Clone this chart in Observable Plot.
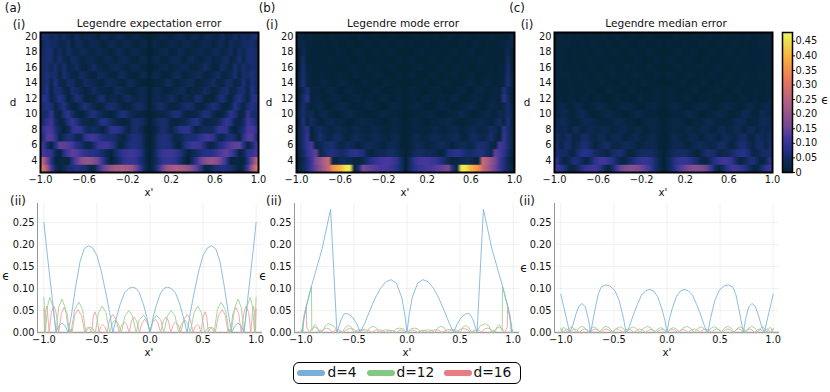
<!DOCTYPE html>
<html>
<head>
<meta charset="utf-8">
<script src="https://cdn.jsdelivr.net/npm/d3@7"></script>
<script src="https://cdn.jsdelivr.net/npm/@observablehq/plot@0.6"></script>
<style>
html,body{margin:0;padding:0;background:#fff}
#root{position:relative;width:830px;height:392px;overflow:hidden;font-family:"DejaVu Sans",sans-serif;color:#111}
#root svg{position:absolute;background:transparent;overflow:visible}
.t{position:absolute;transform:translate(-50%,-50%);white-space:nowrap;line-height:1}
.legend{position:absolute;left:293px;top:362px;width:226px;height:20px;border:1.5px solid #000;border-radius:6px;box-sizing:content-box}
.bar{position:absolute;height:6px;border-radius:3px;top:7px}
.lt{position:absolute;font-size:13.8px;top:2.5px;line-height:1}
</style>
</head>
<body>
<div id="root"></div>
<script>
// error heat maps: rows d = 3 ... 20, columns x' = 0, .04, ... 1 (hundredths); the panels mirror about x' = 0
const degrees = d3.range(3, 21);
const columns = d3.range(26).map(i => i * 0.04);
const expectationRows = [
[0,4,9,15,20,22,23,23,22,20,17,14,9,2,3,6,7,8,7,6,4,1,4,12,22,30],
[0,3,6,9,10,10,9,6,3,0,5,10,15,18,20,20,18,14,9,1,2,2,1,8,16,25],
[0,3,8,10,11,11,10,8,5,1,3,5,7,8,8,9,11,13,14,12,8,1,4,9,10,12],
[0,2,6,7,7,6,3,1,6,9,11,11,10,6,2,3,6,8,11,13,14,14,8,1,6,11],
[0,2,6,7,7,5,2,3,5,6,6,7,9,11,11,9,4,3,6,7,5,2,9,13,13,7],
[0,1,4,6,5,2,5,8,9,9,5,1,4,5,4,5,9,10,9,3,1,4,7,12,12,9],
[0,3,5,6,5,2,1,2,3,5,7,8,5,2,2,3,4,7,10,8,3,2,5,11,9,6],
[0,1,2,2,3,5,7,6,3,1,2,3,5,7,6,3,1,2,5,9,7,2,3,10,6,5],
[0,3,5,5,3,1,1,3,5,6,5,2,1,3,5,7,5,2,1,4,8,5,2,6,8,6],
[0,3,4,2,3,5,4,1,3,3,2,6,5,1,1,1,5,7,4,1,6,8,5,2,8,8],
[0,3,4,2,1,2,3,4,4,1,2,2,3,5,3,1,3,5,6,2,3,6,6,2,8,5],
[0,1,1,2,4,4,1,2,3,4,4,1,2,3,4,5,2,2,5,5,2,3,7,3,7,5],
[0,3,3,1,1,2,4,4,1,2,3,4,4,1,2,4,5,2,2,4,6,2,6,5,7,5],
[0,1,2,3,3,1,2,3,4,3,1,2,3,5,3,1,2,5,3,2,6,3,6,4,6,5],
[0,3,3,1,1,3,4,3,1,3,4,2,1,3,4,2,2,4,5,2,3,6,3,6,6,5],
[0,1,2,3,3,1,2,4,3,1,2,3,4,2,2,4,4,2,3,5,2,5,3,6,6,5],
[0,3,2,1,2,3,3,1,3,4,2,1,3,4,3,1,4,4,1,5,3,3,5,5,6,4],
[0,1,2,3,2,1,3,4,3,1,3,3,1,3,4,3,2,5,2,3,5,3,5,4,6,6]
];
const modeRows = [
[0,5,8,10,11,12,12,13,14,15,16,7,1,46,46,41,38,35,27,23,19,15,11,7,4,1],
[0,5,9,11,12,12,11,10,8,6,3,1,2,3,4,4,2,1,27,24,20,16,11,7,3,0],
[0,2,4,5,5,4,4,3,1,3,7,8,9,8,6,5,6,7,7,5,3,14,12,9,5,1],
[0,1,3,4,3,1,2,3,4,4,3,1,3,4,4,2,4,6,6,5,3,2,12,10,6,2],
[0,1,3,3,1,2,3,4,3,2,3,4,4,2,1,4,5,4,2,4,6,3,1,10,6,2],
[0,1,2,2,1,1,2,3,2,1,2,3,3,1,2,3,4,2,2,3,5,4,1,9,6,2],
[0,1,2,2,1,.5,1,1,2,2,3,2,1,.5,1,2,2,3,3,2,1,3,5,2,7,1],
[0,.5,1,1,1,2,2,1,.5,.5,1,1,2,3,2,1,.5,1,2,3,2,1,4,3,6,2],
[0,1,2,2,1,0,.5,1,2,2,1,.5,.5,1,2,3,2,1,.5,1,3,2,1,3,6,1],
[0,1,1,.5,1,2,1,.5,1,1,.5,2,2,.5,.5,1,2,2,1,.5,2,2,1,9,5,0],
[0,1,1,.5,0,.5,1,1,1,0,.5,.5,1,2,1,0,1,2,2,.5,1,2,1,7,4,0],
[0,0,.5,.5,1,1,0,.5,.5,1,1,0,.5,.5,1,2,1,.5,1,2,1,.5,1,2,7,1],
[0,1,1,0,0,.5,1,1,0,.5,.5,1,1,0,.5,1,1,0,.5,1,1,.5,1,2,6,1],
[0,0,.5,1,1,0,.5,.5,1,1,0,.5,1,1,.5,0,.5,1,.5,.5,1,.5,1,1,6,0],
[0,1,1,0,0,.5,1,.5,0,.5,1,.5,0,.5,1,.5,.5,1,1,.5,.5,1,.5,1,5,0],
[0,0,.5,1,1,0,.5,1,.5,0,.5,1,1,0,.5,1,1,0,.5,1,.5,1,.5,1,4,0],
[0,1,.5,0,.5,1,.5,0,.5,1,.5,0,.5,1,.5,0,1,1,0,1,.5,.5,1,1,3,2],
[0,0,.5,1,.5,0,.5,1,.5,0,1,1,0,.5,1,.5,.5,1,.5,.5,1,.5,1,.5,1,3]
];
const medianRows = [
[0,3,6,10,13,15,17,18,18,17,15,11,5,1,5,9,11,11,10,8,5,2,2,6,9,11],
[0,3,6,9,10,10,9,7,5,2,2,5,8,10,11,11,9,5,1,4,6,7,4,1,4,9],
[0,2,4,5,5,5,4,2,1,4,6,6,5,2,3,4,5,7,8,8,6,2,3,5,5,6],
[0,1,3,3,3,2,1,3,4,4,3,2,3,5,5,3,1,4,6,6,4,2,5,5,2,6],
[0,1,3,3,2,1,3,3,2,1,3,4,3,1,4,4,2,3,5,5,2,2,5,4,3,5],
[0,1,2,2,1,2,3,2,1,3,3,2,1,3,4,2,2,4,3,1,4,4,1,4,3,4],
[0,1,2,2,2,1,.5,1,1,2,3,3,2,1,1,1,2,3,4,3,1,1,2,4,4,3],
[0,.5,1,1,1,2,3,2,1,.5,1,1,2,3,2,1,.5,1,2,4,3,1,1,4,3,2],
[0,1,2,2,1,.5,.5,1,2,2,2,1,.5,1,2,3,2,1,.5,2,3,2,1,2,3,2],
[0,1,1,.5,.5,1,1,0,.5,.5,1,1,.5,0,.5,1,1,0,1,1,.5,1,1,.5,1,1],
[0,1,1,.5,0,.5,.5,1,1,0,.5,.5,1,1,.5,0,.5,1,1,.5,.5,1,1,.5,1,1],
[0,0,.5,.5,1,1,0,.5,.5,1,1,0,.5,.5,1,1,.5,.5,1,1,.5,.5,1,.5,1,1],
[0,1,1,0,0,.5,1,1,0,.5,.5,1,1,0,.5,1,1,0,.5,1,1,.5,1,1,1,1],
[0,0,.5,1,1,0,.5,.5,1,1,0,.5,1,1,.5,0,.5,1,.5,.5,1,.5,1,.5,1,1],
[0,1,1,0,0,.5,1,.5,0,.5,1,.5,0,.5,1,.5,.5,1,1,.5,.5,1,.5,1,1,1],
[0,0,.5,1,1,0,.5,1,.5,0,.5,1,1,0,.5,1,1,0,.5,1,.5,1,.5,1,1,1],
[0,1,.5,0,.5,1,.5,0,.5,1,.5,0,.5,1,.5,0,1,1,0,1,.5,.5,1,1,1,1],
[0,0,.5,1,.5,0,.5,1,.5,0,1,1,0,.5,1,.5,.5,1,.5,.5,1,.5,1,.5,1,1]
];

// line panels: [x', error] read along x' >= 0, mirrored about x' = 0
const expectationD4 = [[0,0],[.03,.035],[.06,.062],[.1,.09],[.13,.1],[.165,.103],[.2,.1],[.24,.09],[.28,.065],[.32,.03],[.35,0],[.38,.045],[.42,.095],[.46,.14],[.5,.175],[.54,.192],[.58,.197],[.62,.19],[.66,.16],[.7,.105],[.74,.04],[.77,0],[.8,.015],[.83,.022],[.86,.014],[.885,0],[.92,.075],[.96,.16],[1,.25]];
const expectationD12 = [[0,0],[.03,.029],[.06,.039],[.1,.029],[.13,0],[.165,.038],[.2,.05],[.235,.038],[.27,0],[.3,.021],[.33,.028],[.355,.021],[.38,0],[.415,.045],[.45,.06],[.485,.045],[.515,0],[.54,.009],[.565,.012],[.585,.009],[.605,0],[.635,.052],[.67,.069],[.71,.052],[.745,0],[.755,.007],[.765,0],[.8,.057],[.83,.076],[.86,.057],[.885,0],[.915,.06],[.945,.08],[.965,.06],[.985,0],[1,.08]];
const expectationD16 = [[0,0],[.025,.022],[.05,.03],[.075,.022],[.1,0],[.125,.026],[.15,.035],[.175,.026],[.195,0],[.22,.018],[.24,.024],[.265,.018],[.29,0],[.32,.03],[.35,.041],[.38,.03],[.405,0],[.425,.013],[.445,.018],[.465,.013],[.48,0],[.5,.035],[.52,.047],[.535,.035],[.55,0],[.565,.009],[.58,.012],[.6,.009],[.615,0],[.645,.039],[.68,.052],[.71,.039],[.735,0],[.745,.008],[.76,0],[.78,.043],[.81,.057],[.835,.043],[.86,0],[.885,.045],[.905,.06],[.93,.045],[.95,0],[.965,.045],[.975,.06],[.985,.045],[.993,0],[1,.055]];
const modeD4 = [[0,0],[.02,.04],[.05,.08],[.1,.112],[.15,.12],[.2,.115],[.25,.1],[.3,.078],[.35,.05],[.4,.02],[.44,0],[.47,.018],[.51,.034],[.55,.042],[.59,.043],[.62,.03],[.65,.008],[.66,0],[.72,.28],[.8,.19],[.9,.105],[.95,.06],[.99,0],[1,0]];
const modeD12 = [[0,0],[.035,.008],[.07,.01],[.105,.008],[.135,0],[.17,.005],[.2,.006],[.23,.005],[.26,0],[.29,.011],[.32,.014],[.35,.011],[.38,0],[.41,.005],[.44,.007],[.47,.005],[.5,0],[.525,.012],[.55,.016],[.58,.012],[.61,0],[.625,.002],[.65,0],[.69,.015],[.74,.02],[.77,.015],[.8,0],[.815,.006],[.83,0],[.85,.014],[.87,.018],[.897,.004],[.9,.105],[.93,.075],[.96,.045],[.975,.03],[.98,0],[.99,.008],[1,0]];
const modeD16 = [[0,0],[.025,.004],[.05,.006],[.075,.004],[.1,0],[.13,.004],[.16,.005],[.18,.004],[.2,0],[.235,.005],[.27,.006],[.3,.005],[.33,0],[.365,.005],[.4,.007],[.435,.005],[.47,.001],[.5,.007],[.53,.009],[.565,.007],[.6,0],[.63,.005],[.66,.006],[.68,.005],[.7,0],[.73,.008],[.76,.01],[.785,.008],[.81,0],[.84,.009],[.87,.012],[.895,.009],[.92,0],[.935,.008],[.945,.012],[.948,.06],[.97,.04],[.985,.015],[.99,0],[1,0]];
const medianD4 = [[0,0],[.02,.028],[.05,.055],[.09,.082],[.125,.094],[.16,.098],[.2,.095],[.24,.085],[.28,.063],[.32,.038],[.36,.01],[.385,0],[.41,.032],[.45,.072],[.49,.095],[.54,.106],[.58,.108],[.62,.103],[.65,.085],[.68,.05],[.71,.012],[.72,0],[.74,.03],[.77,.058],[.8,.066],[.83,.06],[.86,.04],[.89,.015],[.918,0],[.95,.035],[.98,.065],[1,.087]];
const medianD12 = [[0,0],[.03,.008],[.06,.011],[.09,.008],[.115,0],[.15,.01],[.185,.014],[.22,.01],[.255,0],[.29,.009],[.32,.013],[.35,.009],[.38,0],[.41,.009],[.445,.013],[.48,.009],[.51,0],[.54,.01],[.575,.014],[.605,.01],[.635,0],[.66,.009],[.69,.013],[.72,.009],[.74,0],[.77,.01],[.8,.014],[.83,.01],[.855,0],[.88,.009],[.9,.013],[.92,.009],[.94,0],[.96,.009],[.975,.012],[.985,.008],[.992,0],[1,.01]];
const medianD16 = [[0,0],[.025,.005],[.05,.007],[.075,.005],[.1,0],[.125,.005],[.15,.007],[.175,.005],[.2,0],[.23,.006],[.26,.008],[.285,.006],[.31,0],[.34,.006],[.365,.008],[.39,.006],[.415,0],[.445,.006],[.47,.008],[.495,.006],[.52,0],[.55,.006],[.575,.008],[.6,.006],[.625,0],[.65,.006],[.675,.008],[.7,.006],[.72,0],[.75,.006],[.775,.008],[.8,.006],[.825,0],[.85,.006],[.87,.008],[.89,.006],[.91,0],[.93,.006],[.945,.008],[.96,.005],[.975,0],[.985,.004],[1,.007]];

const thermalStops = [0,.04,.08,.12,.16,.24,.32,.40,.48];
const thermalColors = ["#042333","#0e2a55","#243188","#47379c","#744992","#b15f82","#eb7958","#fbb43d","#e8fa5b"];
const colorbarTicks = [0,.05,.1,.15,.2,.25,.3,.35,.4,.45];
const heatXTicks = [-1,-.6,-.2,.2,.6,1];
const heatYTicks = [4,6,8,10,12,14,16,18,20];
const lineXTicks = [-1,-.5,0,.5,1];
const lineYTicks = [0,.05,.1,.15,.2,.25];
const seriesNames = ["d=4","d=12","d=16"];
const seriesColors = ["#80b5de","#98d498","#f0a0a0"];
const legendColors = ["#7aaed6","#84c884","#e87c80"];

const root = document.getElementById("root");
const fontStyle = {fontFamily:'"DejaVu Sans",sans-serif', fontSize:"9.8px", background:"transparent", color:"#111"};
const color = {type:"linear", domain:thermalStops, range:thermalColors, interpolate:"rgb"};
function place(svg, left, top){ svg.style.left = left+"px"; svg.style.top = top+"px"; root.appendChild(svg); }
function note(text, x, y, size){
  const e = document.createElement("div"); e.className = "t"; e.textContent = text;
  e.style.left = x+"px"; e.style.top = y+"px"; e.style.fontSize = size+"px"; root.appendChild(e);
}
const mirror = rows => rows.map(r => [...r.slice(1).reverse(), ...r]);
function heat(rows, left, right){
  const full = mirror(rows).reverse();           // top row is d = 20
  const repeat = 8;                              // keep row edges crisp when the raster is smoothed
  const flat = full.flatMap(r => d3.range(repeat).flatMap(() => r.map(v => v/100)));
  const svg = Plot.plot({
    width:right-left+16, height:192, marginLeft:8, marginRight:8, marginTop:32, marginBottom:20,
    style:fontStyle, color,
    x:{domain:[-1,1]}, y:{domain:[2.5,20.5]},
    marks:[
      Plot.raster(flat,{width:2*columns.length-1,height:degrees.length*repeat,x1:-1,x2:1,y1:20.5,y2:2.5,fill:d=>d}),
      Plot.frame({stroke:"#000",strokeWidth:2}),
      Plot.axisX(heatXTicks,{tickSize:0,tickPadding:4,tickFormat:d3.format(".1f"),label:null}),
      Plot.axisY(heatYTicks,{tickSize:0,tickPadding:3,label:null})
    ]
  });
  place(svg,left-8,0);
}
function linePanel(d4,d12,d16,left){
  const both = s => [...s.slice(1).reverse().map(([x,y])=>[-x,y]), ...s];
  const series = [d4,d12,d16].map(both);
  const svg = Plot.plot({
    width:241, height:152, marginLeft:8, marginRight:8, marginTop:3, marginBottom:20,
    style:fontStyle,
    x:{domain:[-1.06,1.06]}, y:{domain:[0,.293]},
    marks:[
      Plot.gridX(lineXTicks,{stroke:"#000",strokeOpacity:.06}),
      Plot.gridY(lineYTicks,{stroke:"#000",strokeOpacity:.06}),
      Plot.ruleY([0],{stroke:"#a0a0a0",strokeWidth:1.4}),
      Plot.ruleX([-1.06],{stroke:"#999",strokeWidth:1}),
      ...[2,1,0].map(i => Plot.line(series[i],{x:d=>d[0],y:d=>d[1],stroke:seriesColors[i],strokeWidth:.9})),
      Plot.axisX(lineXTicks,{tickSize:0,tickPadding:4,tickFormat:d3.format(".1f"),label:null}),
      Plot.axisY(lineYTicks,{tickSize:0,tickPadding:3,tickFormat:d3.format(".2f"),label:null})
    ]
  });
  place(svg,left-8,200);
}

heat(expectationRows,40,258);
heat(modeRows,296,514);
heat(medianRows,554,772);

// colour bar
place(Plot.plot({
  width:48, height:192, marginLeft:8, marginRight:30, marginTop:32, marginBottom:20,
  style:fontStyle, color,
  x:{domain:[0,1],axis:null}, y:{domain:[0,.48]},
  marks:[
    Plot.raster({x1:0,x2:1,y1:0,y2:.48,width:1,height:140,fill:(x,y)=>y}),
    Plot.frame({stroke:"#000",strokeWidth:1.5}),
    Plot.axisY(colorbarTicks,{anchor:"right",tickSize:2,tickPadding:1,tickFormat:d=>d===0?"0":d3.format(".2f")(d),label:null})
  ]
}),774,0);

linePanel(expectationD4,expectationD12,expectationD16,37);
linePanel(modeD4,modeD12,modeD16,294);
linePanel(medianD4,medianD12,medianD16,554);

[["Legendre expectation error",149],["Legendre mode error",403],["Legendre median error",666]].forEach(([t,x])=>note(t,x,23,10.6));
[["(a)",13,9],["(b)",267,9],["(c)",517,9]].forEach(([t,x,y])=>note(t,x,y,11.8));
[["(i)",19,26],["(i)",272,26],["(i)",527,26],["(ii)",18,202],["(ii)",274,202],["(ii)",527,202]].forEach(([t,x,y])=>note(t,x,y,11.8));
[[13,102],[269,102],[527,102]].forEach(([x,y])=>note("d",x,y,10.4));
[[149,193],[405,193],[663,193],[149,353],[407,353],[667,353]].forEach(([x,y])=>note("x'",x,y,10.2));
[[6,276],[263,276],[524,268],[825,100]].forEach(([x,y])=>note("ϵ",x,y,12));

const lg = document.createElement("div"); lg.className = "legend"; root.appendChild(lg);
[[2.5,33.5],[72.5,102.5],[149.5,179.5]].forEach(([bx,tx],i)=>{
  const b = document.createElement("div"); b.className = "bar";
  b.style.left = bx+"px"; b.style.width = "28px"; b.style.background = legendColors[i]; lg.appendChild(b);
  const t = document.createElement("div"); t.className = "lt"; t.textContent = seriesNames[i];
  t.style.left = tx+"px"; lg.appendChild(t);
});
</script>
</body>
</html>
